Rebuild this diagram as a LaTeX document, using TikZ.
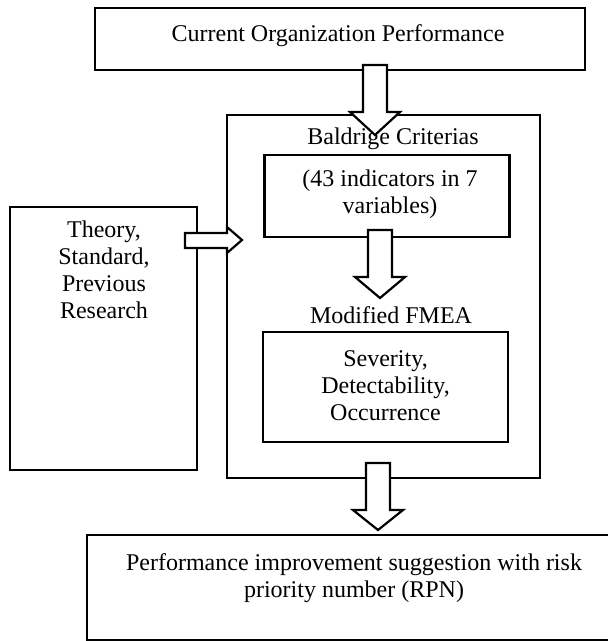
\documentclass[tikz,border=0pt]{standalone}
\usepackage{fontspec}
\setmainfont{Liberation Serif}
\begin{document}
\begin{tikzpicture}[x=0.5pt,y=-0.5pt,
  box/.style={draw,line width=1.1pt,inner sep=0pt},
  txt/.style={align=center,inner sep=0pt,font=\fontsize{12}{13.5}\selectfont},
  arr/.style={draw,fill=white,line width=1.1pt,line join=miter}]
\useasboundingbox (0,0) rectangle (607,641);
\newcommand{\blkdown}[4]{\draw[arr] ({#1-12},#2) -- ({#1+12},#2) -- ({#1+12},#3) -- ({#1+25},#3) -- (#1,#4) -- ({#1-25},#3) -- ({#1-12},#3) -- cycle;}
% boxes
\draw[box] (95,8) rectangle (585,70);
\node[txt] (top) at (338,36) {Current Organization Performance};
\draw[box] (227,115) rectangle (540,478);
\node[box,minimum width=122.5pt,minimum height=41pt] (b1) at (387,196) {};
\node[txt] (t1) at (390,194) {(43 indicators in 7\\variables)};
\node[txt] (bald) at (393,139) {Baldrige Criterias};
\node[txt] (fmea) at (391,315) {Modified FMEA};
\node[box,minimum width=122.5pt,minimum height=55pt] (b2) at (385.5,387) {};
\node[txt] (t2) at (385.5,386) {Severity,\\Detectability,\\Occurrence};
\draw[box] (10,207) rectangle (197,470);
\node[txt] (left) at (104,270) {Theory,\\Standard,\\Previous\\Research};
\draw[box] (87,535) rectangle (625,640);
\node[txt] (bot) at (354,578) {Performance improvement suggestion with risk\\priority number (RPN)};
% arrows
\blkdown{375}{65}{112}{135}
\blkdown{380}{230}{277}{298}
\blkdown{378}{463}{510}{530}
\draw[arr] (185,233) -- (227,233) -- (227,227) -- (242,240) -- (227,253) -- (227,248) -- (185,248) -- cycle;
\end{tikzpicture}
\end{document}
